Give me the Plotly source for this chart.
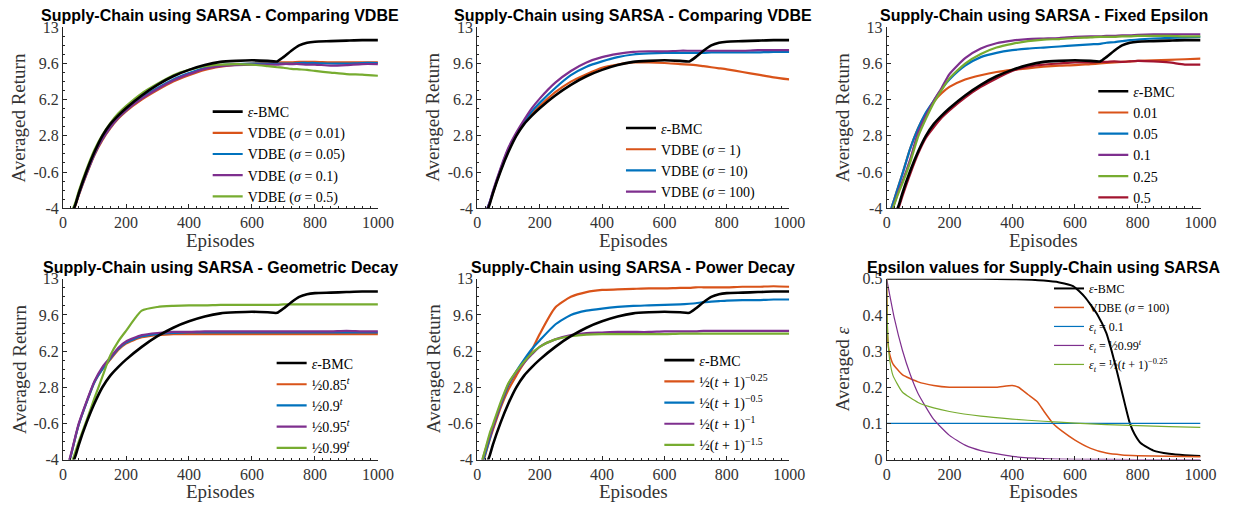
import plotly.graph_objects as go

# ---------------- data ----------------
EP = [15, 25, 40, 50, 75, 100, 125, 150, 175, 200, 250, 300, 350, 400, 450, 500,
      550, 600, 650, 680, 700, 725, 750, 775, 800, 850, 900, 950, 1000]

BMC = [-6.0, -4.8, -3.6, -2.6, -0.5, 1.3, 2.8, 3.9, 4.7, 5.4, 6.6, 7.6, 8.4, 9.0, 9.45, 9.75,
       9.85, 9.9, 9.85, 9.8, 10.2, 10.8, 11.3, 11.55, 11.65, 11.7, 11.75, 11.8, 11.8]

# panel 1 : VDBE sigma 0.01 / 0.05 / 0.1 / 0.5
P1_S001 = [-6.0, -4.7, -3.7, -2.8, -0.8, 1.0, 2.4, 3.5, 4.4, 5.1, 6.2, 7.1, 7.9, 8.5, 9.0, 9.3,
           9.5, 9.6, 9.65, 9.7, 9.7, 9.7, 9.75, 9.75, 9.75, 9.7, 9.7, 9.7, 9.7]
P1_S005 = [-6.0, -4.7, -3.6, -2.7, -0.7, 1.1, 2.5, 3.6, 4.5, 5.2, 6.4, 7.3, 8.1, 8.7, 9.2, 9.45,
           9.55, 9.6, 9.6, 9.6, 9.6, 9.6, 9.65, 9.65, 9.65, 9.6, 9.6, 9.65, 9.65]
P1_S01 = [-6.0, -4.7, -3.6, -2.7, -0.7, 1.1, 2.5, 3.6, 4.5, 5.2, 6.3, 7.2, 8.0, 8.6, 9.1, 9.35,
          9.45, 9.5, 9.5, 9.5, 9.55, 9.55, 9.55, 9.5, 9.5, 9.4, 9.45, 9.55, 9.55]
P1_S05 = [-6.0, -4.6, -3.4, -2.4, -0.3, 1.5, 2.9, 4.0, 4.9, 5.6, 6.8, 7.7, 8.5, 9.0, 9.35, 9.5,
          9.55, 9.5, 9.35, 9.25, 9.2, 9.1, 9.05, 9.0, 8.9, 8.75, 8.6, 8.55, 8.45]

# panel 2 : VDBE sigma 1 / 10 / 100
P2_S1 = [-6.0, -4.7, -3.5, -2.6, -0.4, 1.5, 2.9, 4.0, 4.9, 5.6, 6.9, 7.9, 8.6, 9.2, 9.5, 9.7,
         9.7, 9.65, 9.55, 9.5, 9.45, 9.35, 9.25, 9.15, 9.05, 8.8, 8.55, 8.3, 8.1]
P2_S10 = [-6.0, -4.6, -3.4, -2.5, -0.3, 1.6, 3.0, 4.1, 5.1, 5.9, 7.3, 8.5, 9.3, 9.8, 10.2, 10.45,
          10.55, 10.6, 10.6, 10.6, 10.6, 10.6, 10.65, 10.65, 10.65, 10.65, 10.65, 10.7, 10.7]
P2_S100 = [-6.0, -4.6, -3.4, -2.4, -0.2, 1.7, 3.1, 4.3, 5.4, 6.3, 7.8, 8.9, 9.7, 10.2, 10.5, 10.7,
           10.75, 10.75, 10.8, 10.8, 10.8, 10.8, 10.8, 10.8, 10.8, 10.8, 10.85, 10.85, 10.85]

# panel 3 : fixed epsilon
P3_E001 = [-4.0, -3.1, -1.7, -0.8, 1.6, 3.5, 4.9, 6.0, 6.8, 7.4, 8.1, 8.5, 8.8, 9.0, 9.15, 9.3,
           9.4, 9.45, 9.55, 9.6, 9.65, 9.7, 9.75, 9.8, 9.85, 9.9, 9.95, 10.0, 10.05]
P3_E005 = [-4.0, -3.1, -1.7, -0.8, 1.6, 3.5, 5.0, 6.1, 7.2, 8.1, 9.4, 10.2, 10.6, 10.85, 11.0, 11.1,
           11.2, 11.3, 11.4, 11.45, 11.55, 11.6, 11.7, 11.8, 11.85, 11.95, 12.0, 12.05, 12.1]
P3_E01 = [-4.4, -3.5, -2.2, -1.5, 0.6, 3.1, 4.7, 6.1, 7.3, 8.6, 10.1, 11.0, 11.5, 11.75, 11.9, 11.95,
          12.0, 12.1, 12.15, 12.15, 12.2, 12.2, 12.25, 12.25, 12.3, 12.35, 12.35, 12.35, 12.35]
P3_E025 = [-4.5, -3.6, -2.4, -1.7, 0.3, 2.7, 4.4, 5.9, 7.1, 8.2, 9.6, 10.5, 11.1, 11.45, 11.7, 11.85,
           11.9, 12.0, 12.05, 12.1, 12.1, 12.1, 12.15, 12.15, 12.2, 12.2, 12.2, 12.15, 12.15]
P3_E05 = [-6.0, -4.9, -3.8, -2.9, -0.8, 1.1, 2.6, 3.6, 4.5, 5.2, 6.4, 7.4, 8.2, 8.9, 9.3, 9.5,
          9.6, 9.7, 9.7, 9.75, 9.75, 9.8, 9.75, 9.8, 9.85, 9.8, 9.7, 9.5, 9.5]

# panel 4 : geometric decay
P4_G085 = [-4.6, -3.6, -1.8, -0.7, 1.4, 3.3, 4.5, 5.4, 6.3, 6.9, 7.5, 7.7, 7.8, 7.8, 7.8, 7.8,
           7.8, 7.8, 7.8, 7.8, 7.8, 7.8, 7.8, 7.8, 7.8, 7.8, 7.8, 7.8, 7.8]
P4_G09 = [-4.6, -3.6, -1.8, -0.7, 1.4, 3.3, 4.5, 5.5, 6.4, 7.0, 7.6, 7.8, 7.9, 7.95, 7.95, 7.95,
          7.95, 7.95, 7.95, 7.95, 7.95, 7.95, 7.95, 7.95, 7.95, 7.95, 7.95, 7.95, 7.95]
P4_G095 = [-4.6, -3.5, -1.7, -0.6, 1.5, 3.4, 4.7, 5.6, 6.5, 7.1, 7.7, 7.9, 8.0, 8.0, 8.05, 8.05,
           8.05, 8.05, 8.05, 8.05, 8.05, 8.05, 8.05, 8.05, 8.05, 8.05, 8.1, 8.05, 8.05]
P4_G099 = [-6.0, -4.6, -3.2, -2.3, -0.3, 1.8, 3.8, 5.8, 7.1, 8.1, 10.0, 10.35, 10.45, 10.5, 10.5, 10.55,
           10.55, 10.55, 10.55, 10.55, 10.6, 10.6, 10.6, 10.6, 10.6, 10.6, 10.6, 10.6, 10.6]

# panel 5 : power decay
P5_P025 = [-4.6, -3.6, -2.1, -1.2, 0.9, 2.6, 3.9, 5.1, 6.3, 7.8, 10.3, 11.3, 11.75, 11.95, 12.0, 12.05,
           12.1, 12.1, 12.15, 12.15, 12.2, 12.2, 12.2, 12.2, 12.2, 12.25, 12.25, 12.3, 12.25]
P5_P05 = [-4.4, -3.5, -2.0, -1.0, 1.1, 3.0, 4.3, 5.4, 6.4, 7.2, 8.7, 9.6, 10.0, 10.2, 10.35, 10.45,
          10.5, 10.55, 10.6, 10.65, 10.7, 10.8, 10.85, 10.9, 10.95, 11.0, 11.0, 11.05, 11.05]
P5_P1 = [-4.2, -3.2, -1.8, -1.0, 1.2, 3.1, 4.2, 5.1, 5.9, 6.6, 7.3, 7.7, 7.9, 7.95, 8.0, 8.0,
         8.0, 8.05, 8.05, 8.05, 8.05, 8.1, 8.1, 8.1, 8.1, 8.1, 8.1, 8.1, 8.1]
P5_P15 = [-4.1, -3.1, -1.5, -0.7, 1.4, 3.2, 4.3, 5.2, 6.0, 6.6, 7.3, 7.6, 7.75, 7.8, 7.8, 7.8,
          7.8, 7.8, 7.85, 7.85, 7.85, 7.85, 7.85, 7.85, 7.85, 7.85, 7.85, 7.85, 7.85]

# panel 6 : epsilon values
EPS_BMC_X = [0, 100, 200, 300, 400, 500, 550, 594, 631, 672, 700, 717, 732, 746, 760, 775,
             790, 810, 850, 900, 950, 1000]
EPS_BMC_Y = [0.5, 0.5, 0.5, 0.5, 0.499, 0.495, 0.49, 0.48, 0.45, 0.4, 0.35, 0.3, 0.25, 0.2, 0.15, 0.1,
             0.07, 0.045, 0.025, 0.016, 0.012, 0.01]
EPS_VDBE_X = [0, 3, 6, 10, 20, 50, 100, 150, 200, 250, 300, 350, 400, 420, 450, 480, 500, 530,
              560, 600, 650, 700, 750, 800, 900, 1000]
EPS_VDBE_Y = [0.5, 0.34, 0.31, 0.29, 0.265, 0.235, 0.215, 0.205, 0.2, 0.2, 0.2, 0.2, 0.205, 0.2,
              0.18, 0.16, 0.135, 0.1, 0.078, 0.054, 0.031, 0.018, 0.013, 0.011, 0.009, 0.008]
EPS_FIX_X = [0, 1000]
EPS_FIX_Y = [0.1, 0.1]
EPS_GEO_X = [0, 25, 50, 75, 100, 150, 200, 250, 300, 400, 500, 600, 800, 1000]
EPS_GEO_Y = [0.5, 0.389, 0.303, 0.236, 0.183, 0.111, 0.067, 0.040, 0.025, 0.009, 0.003, 0.001,
             0.0002, 0.0]
EPS_POW_X = [0, 1, 3, 5, 10, 20, 50, 100, 150, 200, 300, 400, 500, 600, 700, 800, 900, 1000]
EPS_POW_Y = [0.5, 0.42, 0.354, 0.319, 0.274, 0.233, 0.187, 0.158, 0.143, 0.133, 0.120, 0.112,
             0.106, 0.101, 0.097, 0.094, 0.091, 0.089]

TITLES = ["Supply-Chain using SARSA - Comparing VDBE",
          "Supply-Chain using SARSA - Comparing VDBE",
          "Supply-Chain using SARSA - Fixed Epsilon",
          "Supply-Chain using SARSA - Geometric Decay",
          "Supply-Chain using SARSA - Power Decay",
          "Epsilon values for Supply-Chain using SARSA"]
RET_TICKS = [-4, -0.6, 2.8, 6.2, 9.6, 13]
RET_TICKTEXT = ["-4", "-0.6", "2.8", "6.2", "9.6", "13"]
EPS_TICKS = [0, 0.1, 0.2, 0.3, 0.4, 0.5]
X_TICKS = [0, 200, 400, 600, 800, 1000]

# ---------------- style ----------------
BLACK = "#000000"
ORANGE = "#D95319"
BLUE = "#0072BD"
PURPLE = "#7E2F8E"
GREEN = "#77AC30"
RED = "#A2142F"
SERIF = "Liberation Serif"
SANS = "Liberation Sans"
AXC = "#262626"

W, H = 1250, 516
COLS = [(60, 380), (481, 798), (897, 1216)]
ROWS = [(20, 207), (280, 467)]

fig = go.Figure()

panels = [
    (1, [("VDBE (<i>σ</i> = 0.01)", P1_S001, ORANGE), ("VDBE (<i>σ</i> = 0.05)", P1_S005, BLUE),
         ("VDBE (<i>σ</i> = 0.1)", P1_S01, PURPLE), ("VDBE (<i>σ</i> = 0.5)", P1_S05, GREEN)]),
    (2, [("VDBE (<i>σ</i> = 1)", P2_S1, ORANGE), ("VDBE (<i>σ</i> = 10)", P2_S10, BLUE),
         ("VDBE (<i>σ</i> = 100)", P2_S100, PURPLE)]),
    (3, [("0.01", P3_E001, ORANGE), ("0.05", P3_E005, BLUE), ("0.1", P3_E01, PURPLE),
         ("0.25", P3_E025, GREEN), ("0.5", P3_E05, RED)]),
    (4, [("½0.85<sup><i>t</i></sup>", P4_G085, ORANGE), ("½0.9<sup><i>t</i></sup>", P4_G09, BLUE),
         ("½0.95<sup><i>t</i></sup>", P4_G095, PURPLE), ("½0.99<sup><i>t</i></sup>", P4_G099, GREEN)]),
    (5, [("½(<i>t</i> + 1)<sup>−0.25</sup>", P5_P025, ORANGE), ("½(<i>t</i> + 1)<sup>−0.5</sup>", P5_P05, BLUE),
         ("½(<i>t</i> + 1)<sup>−1</sup>", P5_P1, PURPLE), ("½(<i>t</i> + 1)<sup>−1.5</sup>", P5_P15, GREEN)]),
]


def ax_suffix(i):
    return "" if i == 1 else str(i)


for idx, series in panels:
    s = ax_suffix(idx)
    leg = "legend" + s
    for rank, (name, ys, col) in enumerate(series):
        fig.add_trace(go.Scatter(x=EP, y=ys, mode="lines", name=name,
                                 line=dict(color=col, width=2.2, shape="spline", smoothing=0.6),
                                 xaxis="x" + s, yaxis="y" + s, legend=leg, legendrank=rank + 2))
    fig.add_trace(go.Scatter(x=EP, y=BMC, mode="lines", name="<i>ε</i>-BMC",
                             line=dict(color=BLACK, width=2.6, shape="spline", smoothing=0.6),
                             xaxis="x" + s, yaxis="y" + s, legend=leg, legendrank=1))

eps_series = [
    ("<i>ε</i>-BMC", EPS_BMC_X, EPS_BMC_Y, BLACK, 2),
    ("VDBE (<i>σ</i> = 100)", EPS_VDBE_X, EPS_VDBE_Y, ORANGE, 1.5),
    ("<i>ε<sub>t</sub></i> = 0.1", EPS_FIX_X, EPS_FIX_Y, BLUE, 1.2),
    ("<i>ε<sub>t</sub></i> = ½0.99<sup><i>t</i></sup>", EPS_GEO_X, EPS_GEO_Y, PURPLE, 1.2),
    ("<i>ε<sub>t</sub></i> = ½(<i>t</i> + 1)<sup>−0.25</sup>", EPS_POW_X, EPS_POW_Y, GREEN, 1.2),
]
for rank, (name, xs, ys, col, wd) in enumerate(eps_series):
    fig.add_trace(go.Scatter(x=xs, y=ys, mode="lines", name=name,
                             line=dict(color=col, width=wd, shape="spline", smoothing=0.5),
                             xaxis="x6", yaxis="y6", legend="legend6", legendrank=rank + 1))

layout = dict(width=W, height=H, margin=dict(l=0, r=0, t=0, b=0),
              plot_bgcolor="white", paper_bgcolor="white", showlegend=True)

ann = []
# (left x of legend, top y of legend, font size) in pixels
legend_pos = {1: (207, 91, 14), 2: (627, 108, 14), 3: (1107, 70, 14),
              4: (272, 351, 14), 5: (666, 348, 14), 6: (1062, 275, 12)}

for i in range(6):
    idx = i + 1
    r, c = divmod(i, 3)
    x0, x1 = COLS[c]
    y0, y1 = ROWS[r]
    s = ax_suffix(idx)
    xd = [x0 / W, x1 / W]
    yd = [1 - y1 / H, 1 - y0 / H]
    common = dict(showline=True, linecolor=AXC, linewidth=1, mirror=False, showgrid=False,
                  zeroline=False, ticks="inside", ticklen=4, tickcolor=AXC,
                  tickfont=dict(family=SERIF, size=16, color="#333333"))
    layout["xaxis" + s] = dict(domain=xd, anchor="y" + s, range=[0, 1000], tickvals=X_TICKS,
                               minor=dict(ticks="inside", ticklen=2, dtick=25, tick0=0, tickcolor=AXC),
                               **common)
    if idx < 6:
        layout["yaxis" + s] = dict(domain=yd, anchor="x" + s, range=[-4, 13], tickvals=RET_TICKS,
                                   ticktext=RET_TICKTEXT,
                                   minor=dict(ticks="inside", ticklen=2, dtick=0.85, tick0=-4,
                                              tickcolor=AXC), **common)
        ytitle = "Averaged Return"
    else:
        layout["yaxis" + s] = dict(domain=yd, anchor="x" + s, range=[0, 0.5], tickvals=EPS_TICKS,
                                   minor=dict(ticks="inside", ticklen=2, dtick=0.025, tick0=0,
                                              tickcolor=AXC), **common)
        ytitle = "Averaged <i>ε</i>"
    lx, ly, lfs = legend_pos[idx]
    layout["legend" + s] = dict(x=lx / W, y=1 - ly / H, xanchor="left", yanchor="top",
                                bgcolor="rgba(0,0,0,0)", borderwidth=0, itemwidth=30,
                                font=dict(family=SERIF, size=lfs, color="#000000"),
                                tracegroupgap=0)
    # title
    ann.append(dict(text="<b>" + TITLES[i] + "</b>", x=(x0 + x1) / 2 / W,
                    y=1 - (y0 - 12) / H, xref="paper", yref="paper", showarrow=False,
                    xanchor="center", yanchor="middle",
                    font=dict(family=SANS, size=16, color="#000000")))
    # x title
    ann.append(dict(text="Episodes", x=(x0 + x1) / 2 / W, y=1 - (y1 + 33) / H,
                    xref="paper", yref="paper", showarrow=False, xanchor="center",
                    yanchor="middle", font=dict(family=SERIF, size=19, color="#333333")))
    # y title
    ann.append(dict(text=ytitle, x=(x0 - 45) / W, y=1 - (y0 + y1) / 2 / H,
                    xref="paper", yref="paper", showarrow=False, textangle=-90,
                    xanchor="center", yanchor="middle",
                    font=dict(family=SERIF, size=19, color="#333333")))

layout["annotations"] = ann
fig.update_layout(**layout)
fig.write_html("out.html")
